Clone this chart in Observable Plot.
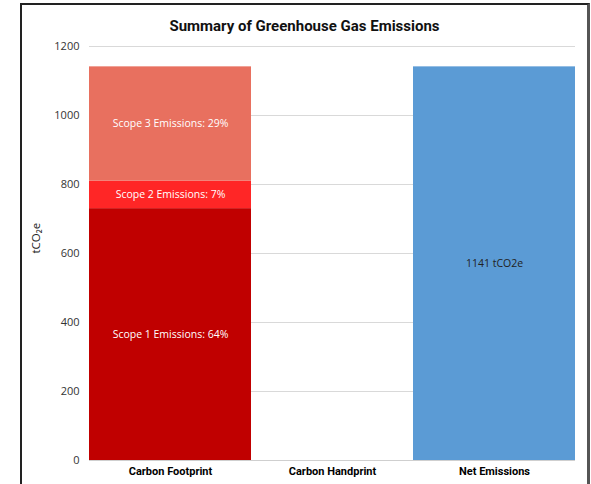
<!DOCTYPE html>
<html>
<head>
<meta charset="utf-8">
<script src="https://cdn.jsdelivr.net/npm/d3@7"></script>
<script src="https://cdn.jsdelivr.net/npm/@observablehq/plot@0.6"></script>
<style>
  html, body { margin: 0; padding: 0; background: #fff; }
  #wrap { position: relative; width: 591px; height: 484px; overflow: hidden; }
  #frame { position: absolute; left: 20px; top: 3px; width: 570px; height: 520px;
           border-left: 2px solid #222; border-top: 2px solid #222; border-right: 3px solid #555; box-sizing: border-box; }
  #chart { position: absolute; left: 0; top: 0; }
</style>
</head>
<body>
<div id="wrap"><div id="frame"></div><div id="chart"></div></div>
<script>
const title = "Summary of Greenhouse Gas Emissions";
const yLabel = "tCO₂e";
const categories = ["Carbon Footprint", "Carbon Handprint", "Net Emissions"];
const scopeNames = ["Scope 1 Emissions", "Scope 2 Emissions", "Scope 3 Emissions"];
const scopeValues = [730, 80, 331];
const scopePct = [64, 7, 29];
const scopeColors = ["#c00000", "#ff2626", "#e8705f"];
const handprintValue = 0;
const netValue = 1141;
const netColor = "#5b9bd5";
const yTicks = [0, 200, 400, 600, 800, 1000, 1200];

const stackData = scopeNames.map((s, i) => ({
  category: categories[0], series: s, value: scopeValues[i],
  label: `${s}: ${scopePct[i]}%`, color: scopeColors[i]
}));
const netData = [{category: categories[2], value: netValue, label: `${netValue} tCO2e`}];

const font = "Roboto, 'Open Sans', sans-serif";
const labelFont = "'Open Sans', sans-serif";

const chart = Plot.plot({
  width: 591,
  height: 484,
  marginTop: 46,
  marginBottom: 24,
  marginLeft: 89,
  marginRight: 16,
  style: {fontFamily: font, fontSize: "11px", color: "#333", background: "transparent"},
  x: {domain: categories, padding: 0, label: null},
  y: {domain: [0, 1200], ticks: yTicks, label: null},
  marks: [
    Plot.gridY(yTicks, {stroke: "#d9d9d9", strokeOpacity: 1, strokeWidth: 1}),
    Plot.barY(stackData, Plot.stackY({x: "category", y: "value", fill: "color", order: null})),
    Plot.barY(netData, {x: "category", y: "value", fill: netColor}),
    Plot.barY([{category: categories[1], value: handprintValue}], {x: "category", y: "value", fill: "#888"}),
    Plot.ruleY([0], {stroke: "#cfcfcf", strokeWidth: 1.2}),
    Plot.text(stackData, Plot.stackY({x: "category", y: "value", text: "label", fill: "white", order: null, fontSize: 10.5, fontFamily: labelFont})),
    Plot.text(netData, {x: "category", y: d => d.value / 2, text: "label", fill: "#222", fontSize: 10.5, fontFamily: labelFont}),
    Plot.axisY({ticks: yTicks, tickFormat: d => String(d), tickSize: 0, tickPadding: 10, label: null, fill: "#333", fontSize: 11, fontFamily: labelFont}),
    Plot.axisX({tickSize: 0, tickPadding: 7, label: null, fontWeight: "bold", fill: "#000", fontSize: 11}),
    Plot.text([title], {frameAnchor: "top", dy: -26, dx: -28, fontSize: 15, fontWeight: "bold", fill: "#111"}),
    Plot.text([yLabel], {frameAnchor: "left", dx: -53, rotate: -90, fontSize: 11.5, fill: "#222", fontFamily: labelFont})
  ]
});
document.getElementById("chart").appendChild(chart);
</script>
</body>
</html>
